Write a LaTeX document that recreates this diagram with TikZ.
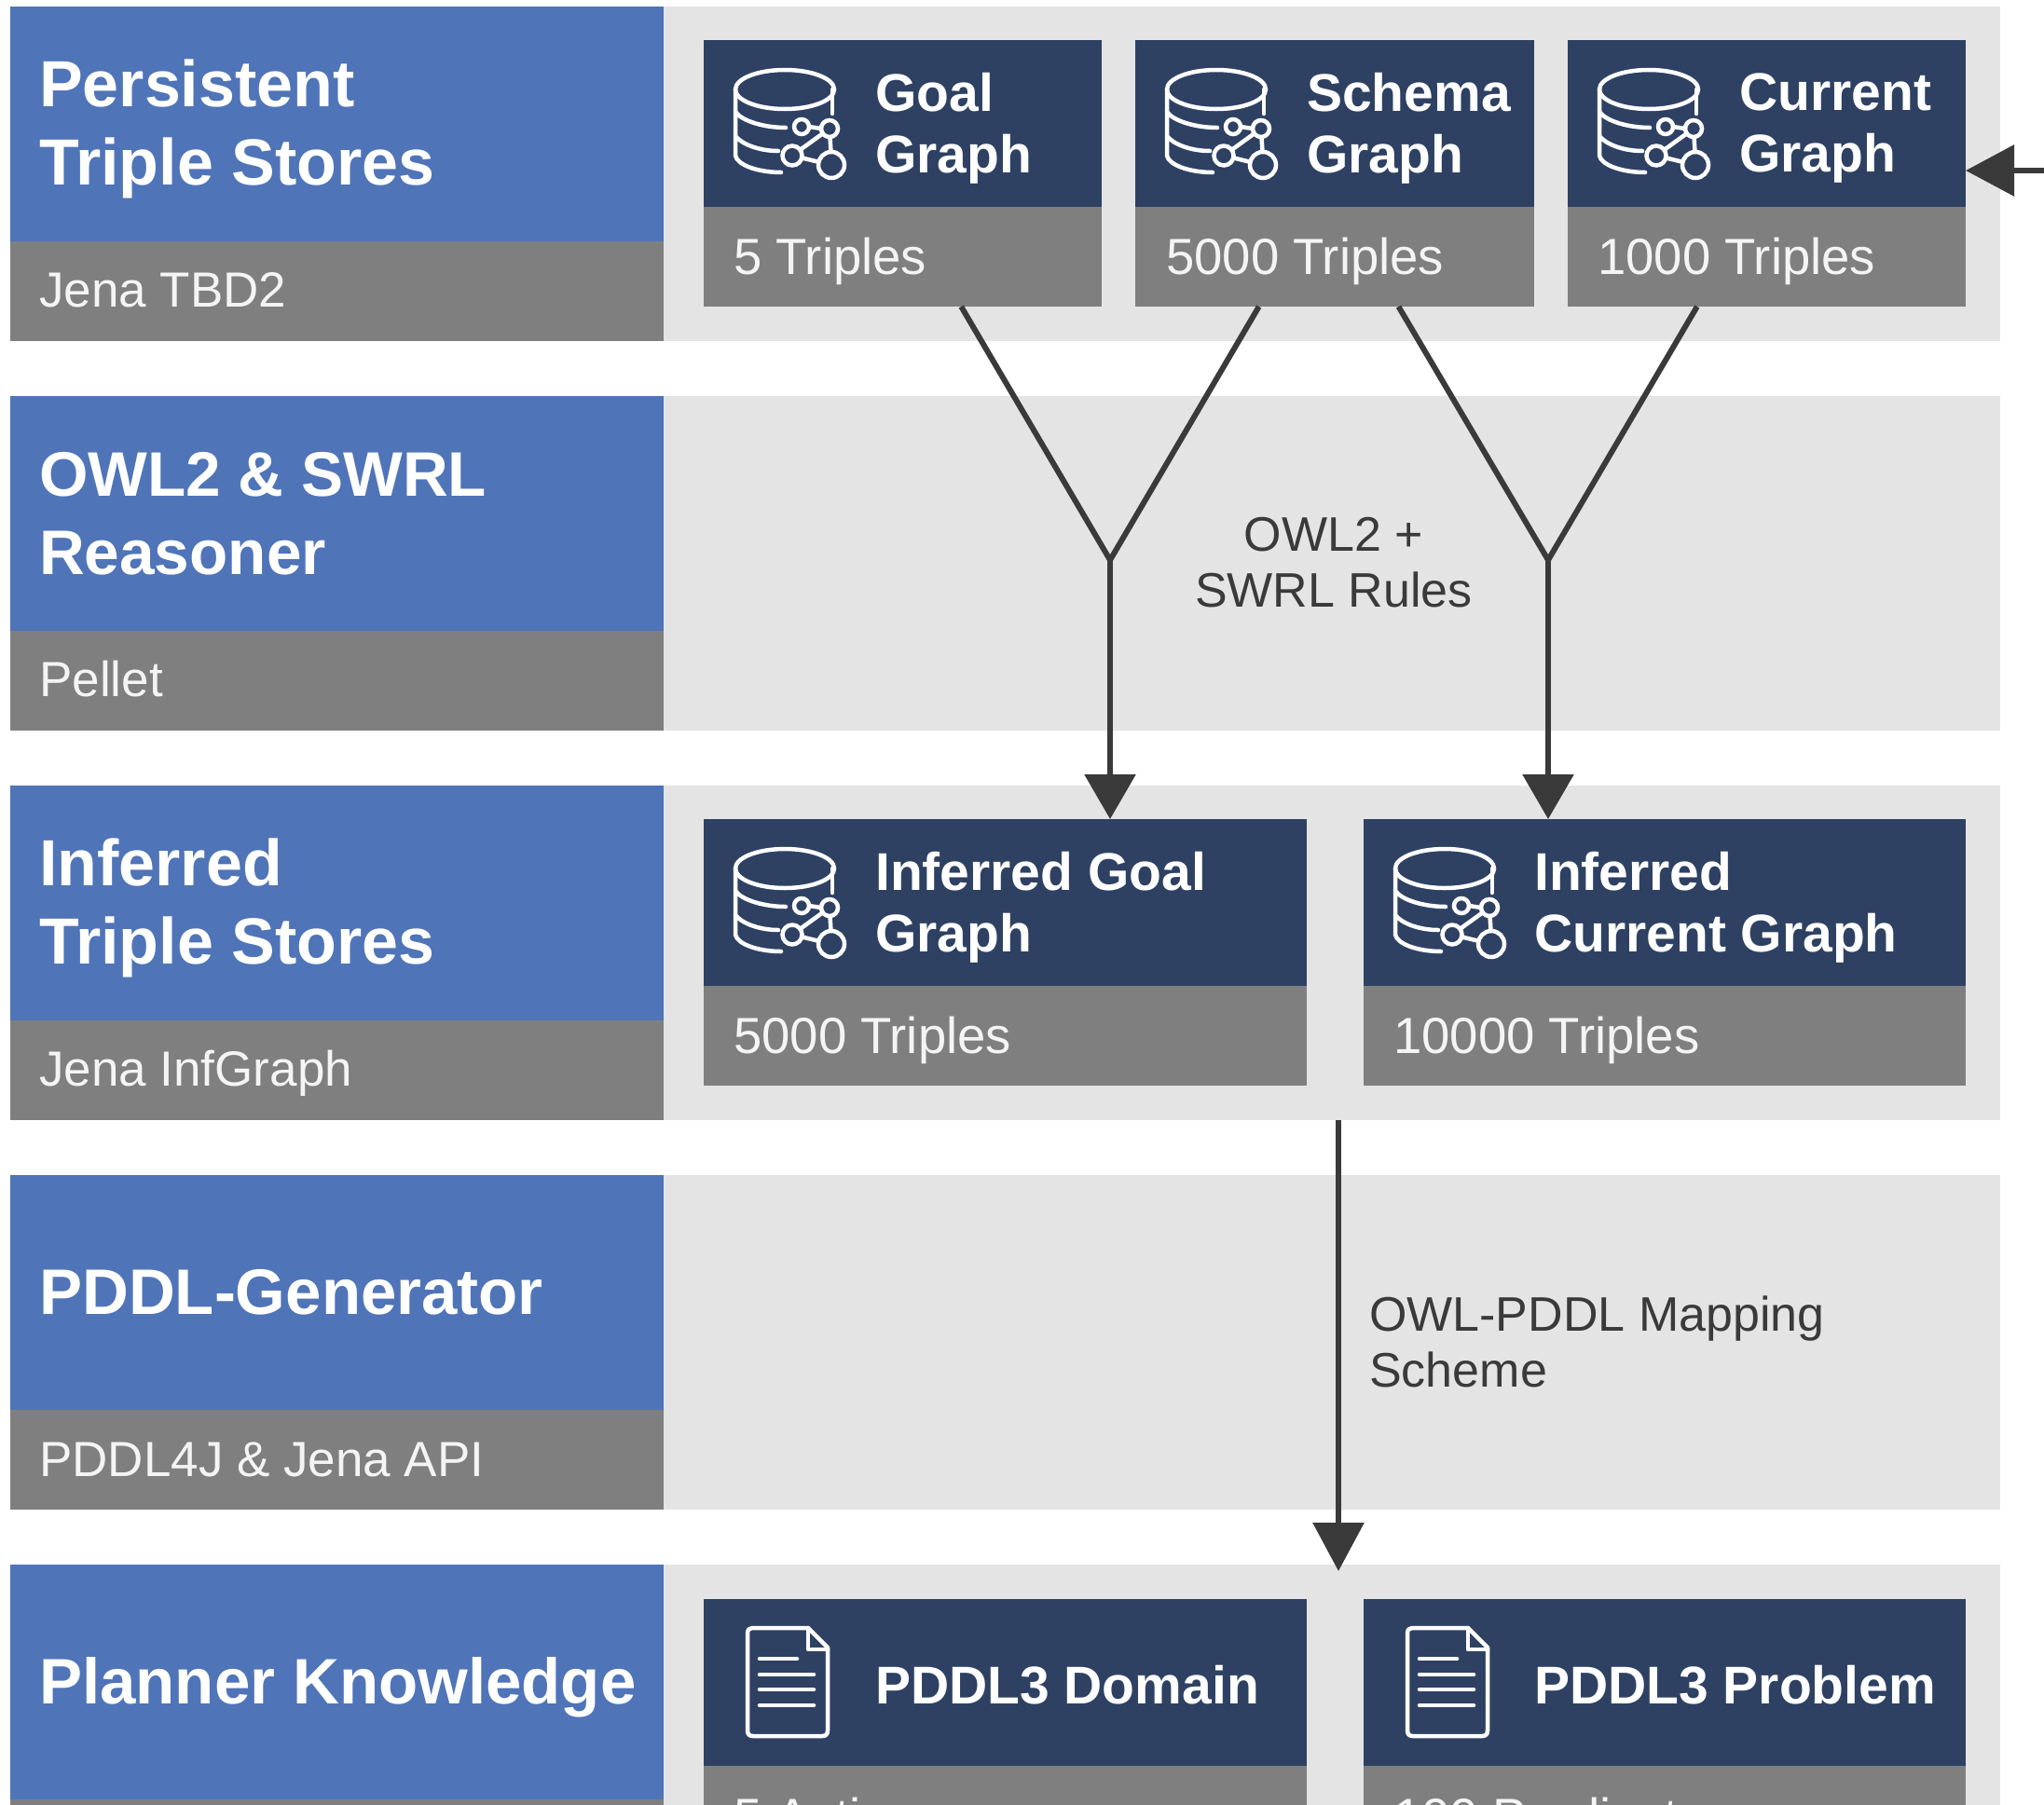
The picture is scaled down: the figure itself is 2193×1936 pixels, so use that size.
\documentclass[tikz,border=0pt]{standalone}
\usepackage{fontspec}
\setmainfont{Liberation Sans}
\usetikzlibrary{arrows.meta,calc,positioning}
\definecolor{hblue}{HTML}{4F74B8}
\definecolor{hgray}{HTML}{7F7F7F}
\definecolor{hbg}{HTML}{E4E4E4}
\definecolor{hnavy}{HTML}{2E4163}
\definecolor{hdark}{HTML}{3A3A3A}
\tikzset{
 box/.style={inner sep=0pt,outer sep=0pt,minimum width=#1,anchor=north west,rectangle},
 titlebox/.style={fill=hblue,box=701pt,minimum height=252pt},
 subbox/.style={fill=hgray,box=701pt,minimum height=107pt},
 bgbox/.style={fill=hbg,box=1434pt,minimum height=359pt},
 headbox/.style={fill=hnavy,box=#1,minimum height=179pt},
 footbox/.style={fill=hgray,box=#1,minimum height=107pt},
 rowtitle/.style={anchor=west,align=left,text=white,font=\fontsize{70}{84}\selectfont\bfseries,inner sep=0pt},
 rowsub/.style={anchor=west,text=white,text opacity=.92,font=\fontsize{53}{60}\selectfont,inner sep=0pt},
 cardtitle/.style={anchor=west,align=left,text=white,font=\fontsize{57}{66}\selectfont\bfseries,inner sep=0pt},
 cardsub/.style={anchor=west,text=white,text opacity=.92,font=\fontsize{54.5}{60}\selectfont,inner sep=0pt},
 note/.style={text=hdark,font=\fontsize{52}{60}\selectfont,inner sep=0pt},
 link/.style={draw=hdark,line width=6pt},
 arrowlink/.style={link,-{Triangle[length=52pt,width=54pt,sep=0pt]}},
 mergelink/.style={link,-{Triangle[length=48pt,width=54pt,sep=0pt]}},
 iconline/.style={draw=white,line width=4.5pt,line cap=round,fill=none},
 dbicon/.pic={
  \draw[iconline] (87,53) ellipse [x radius=53,y radius=21];
  \draw[iconline] (34,53) -- (34,124) .. controls (36,134) and (58,142) .. (83,142);
  \draw[iconline] (138,53) -- (138,79);
  \draw[iconline] (34,77) .. controls (41,87) and (65,94) .. (88,94);
  \draw[iconline] (34,103) .. controls (41,112) and (60,119) .. (80,119);
  \draw[iconline] (113,93) -- (126,95) (127.7,100.3) -- (103.5,117.8) (135.5,104) -- (136.5,120) (105.2,126.4) -- (123.4,130.8);
  \draw[iconline] (105,93) circle [radius=8] (135,95) circle [radius=9] (95,124) circle [radius=10.5] (137,134) circle [radius=14];
 },
 docicon/.pic={
  \draw[iconline,line join=round] (52,31) -- (112,31) -- (133,52) -- (133,141) .. controls (133,145) and (131,147) .. (127,147) -- (53,147) .. controls (49,147) and (47,145) .. (47,141) -- (47,37) .. controls (47,33) and (49,31) .. (52,31) -- cycle;
  \draw[iconline,line join=round] (112,31) -- (112,54) -- (133,54);
  \draw[iconline] (60,64) -- (100,64) (60,81) -- (118,81) (60,97) -- (118,97) (60,114) -- (118,114);
 },
}
\begin{document}
\begin{tikzpicture}[x=1pt,y=-1pt]
\useasboundingbox (0,0) rectangle (2193,1936);
\clip (0,0) rectangle (2193,1936);
% backgrounds
\foreach \nm/\yy in {a/7,b/425,c/843,d/1261,e/1679}{
 \node[bgbox] (bg\nm) at (712,\yy) {};
 \node[titlebox] (title\nm) at (11,\yy) {};
 \node[subbox,below=0pt of title\nm.south west,anchor=north west] (sub\nm) {};
}
% row labels
\node[rowtitle] (ta) at (42,138) {Persistent\\Triple Stores};
\node[rowsub] (sa) at (42,311) {Jena TBD2};
\node[rowtitle,font=\fontsize{67.5}{84}\selectfont\bfseries] (tb) at (42,551) {OWL2 \& SWRL\\Reasoner};
\node[rowsub] (sb) at (42,729) {Pellet};
\node[rowtitle] (tc) at (42,974) {Inferred\\Triple Stores};
\node[rowsub] (sc) at (42,1152) {Jena InfGraph};
\node[rowtitle,font=\fontsize{69}{84}\selectfont\bfseries] (td) at (42,1387) {PDDL-Generator};
\node[rowsub] (sd) at (42,1566) {PDDL4J \& Jena API};
\node[rowtitle,font=\fontsize{69}{84}\selectfont\bfseries] (te) at (42,1811) {Planner Knowledge};
% cards
\foreach \nm/\xx/\yy/\ww/\ic in {goal/755/43/427/dbicon,schema/1218/43/428/dbicon,current/1682/43/427/dbicon,igoal/755/879/647/dbicon,icurrent/1463/879/646/dbicon,dom/755/1716/647/docicon,prob/1463/1716/646/docicon}{
 \node[headbox=\ww pt] (\nm h) at (\xx,\yy) {};
 \node[footbox=\ww pt,below=0pt of \nm h.south west,anchor=north west] (\nm f) {};
 \pic at (\xx,\yy) {\ic};
}
% card text
\node[cardtitle] (goalt) at (939,138) {Goal\\Graph};
\node[cardsub] (goals) at (787,280) {5 Triples};
\node[cardtitle] (schemat) at (1402,138) {Schema\\Graph};
\node[cardsub] (schemas) at (1251,280) {5000 Triples};
\node[cardtitle] (currentt) at (1866,138) {Current\\Graph};
\node[cardsub] (currents) at (1714,280) {1000 Triples};
\node[cardtitle] (igoalt) at (939,974) {Inferred Goal\\Graph};
\node[cardsub] (igoals) at (787,1116) {5000 Triples};
\node[cardtitle] (icurrentt) at (1646,974) {Inferred\\Current Graph};
\node[cardsub] (icurrents) at (1495,1116) {10000 Triples};
\node[cardtitle] (domt) at (939,1808) {PDDL3 Domain};
\node[cardsub] (doms) at (787,1949) {5 Actions};
\node[cardtitle] (probt) at (1646,1808) {PDDL3 Problem};
\node[cardsub] (probs) at (1495,1949) {100 Predicates};
% notes
\node[note,align=center] (rules) at (1431,604) {OWL2 +\\SWRL Rules};
\node[note,align=left,anchor=west] (map) at (1469,1440) {OWL-PDDL Mapping\\Scheme};
% connectors
\coordinate (m1) at (1191,601);
\coordinate (m2) at (1661,601);
\coordinate (inL) at (2193,183);
\coordinate (s3) at (1436,1202);
\coordinate (t3) at (1436,1686);
\draw[link,line join=miter] ($(goalf.south west)!0.647!(goalf.south east)$) -- (m1) -- ($(schemaf.south west)!0.31!(schemaf.south east)$);
\draw[link,line join=miter] ($(schemaf.south west)!0.66!(schemaf.south east)$) -- (m2) -- ($(currentf.south west)!0.325!(currentf.south east)$);
\draw[mergelink] (m1) -- (m1 |- igoalh.north);
\draw[mergelink] (m2) -- (m2 |- icurrenth.north);
\draw[arrowlink] (s3) -- (t3);
\draw[arrowlink] (inL) -- (inL -| currenth.east);
\end{tikzpicture}
\end{document}
